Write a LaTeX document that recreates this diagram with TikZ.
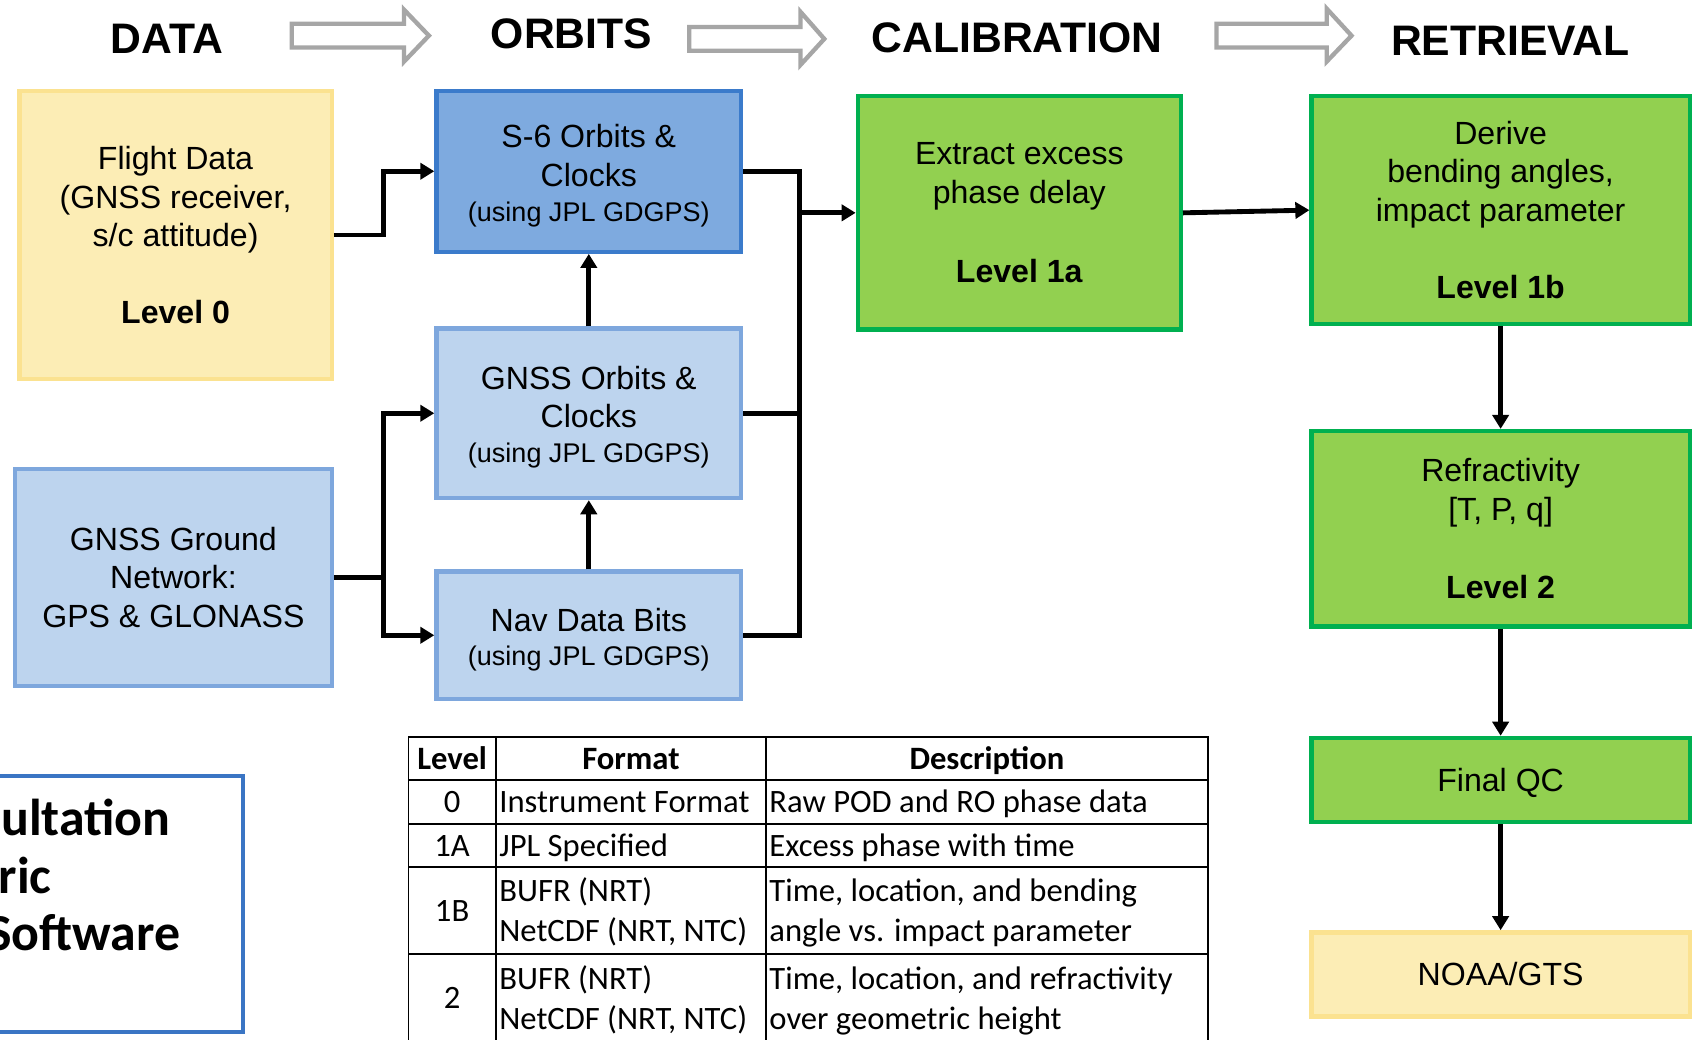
\documentclass[tikz,border=0pt]{standalone}
\usepackage{fontspec}
\setmainfont{Liberation Sans}
\newfontfamily\tabfont{Carlito}
\usetikzlibrary{arrows.meta}
\definecolor{ylfill}{HTML}{FCEDB5}
\definecolor{yldraw}{HTML}{FBE290}
\definecolor{dbfill}{HTML}{7EAADF}
\definecolor{dbdraw}{HTML}{3B7BCB}
\definecolor{lbfill}{HTML}{BDD4EE}
\definecolor{lbdraw}{HTML}{7EA7DD}
\definecolor{grfill}{HTML}{92D050}
\definecolor{grdraw}{HTML}{00B050}
\definecolor{arrgray}{HTML}{A6A6A6}
\definecolor{swdraw}{HTML}{3A75C4}
\begin{document}
\begin{tikzpicture}[x=1pt,y=-1pt,
  box/.style={draw, line width=4pt, inner sep=0pt, align=center,
    font=\fontsize{29.7}{35.5}\selectfont},
  ylbox/.style={box, fill=ylfill, draw=yldraw},
  dbbox/.style={box, fill=dbfill, draw=dbdraw},
  lbbox/.style={box, fill=lbfill, draw=lbdraw},
  grbox/.style={box, fill=grfill, draw=grdraw},
  conn/.style={line width=4.5pt, -{Triangle[length=13pt,width=15pt]}},
  plainline/.style={line width=4.5pt},
  hdr/.style={font=\bfseries\fontsize{39.5}{45}\selectfont, inner sep=0pt},
  garrow/.style={draw=arrgray, fill=white, line width=4pt, line join=miter},
  tab/.style={inner sep=0pt, font=\tabfont\fontsize{30.2}{36}\selectfont},
  tabh/.style={tab, font=\tabfont\bfseries\fontsize{30.2}{36}\selectfont},
  tline/.style={line width=1.5pt, draw=black},
  swtext/.style={inner sep=0pt, font=\tabfont\bfseries\fontsize{48}{56}\selectfont},
]
\useasboundingbox (0,0) rectangle (1568,962);
\fill[white] (0,0) rectangle (1568,962);
\clip (0,0) rectangle (1568,962);

% headers
\node[hdr] (hdata) at (154.5,35.5) {DATA};
\node[hdr] (horb) at (529,31.3) {ORBITS};
\node[hdr] (hcal) at (941.4,34.7) {CALIBRATION};
\node[hdr] (hret) at (1398,37.8) {RETRIEVAL};

% hollow gray arrows
\draw[garrow] (270,22) -- (374,22) -- (374,9) -- (397,33) -- (374,57) -- (374,44) -- (270,44) -- cycle;
\draw[garrow] (638,25) -- (741,25) -- (741,11) -- (763,36) -- (741,60) -- (741,47) -- (638,47) -- cycle;
\draw[garrow] (1126,22) -- (1228,22) -- (1228,8) -- (1251,33) -- (1228,57) -- (1228,44) -- (1126,44) -- cycle;

% boxes
\node[ylbox, minimum width=289, minimum height=267] (flight) at (162.5,217.5)
  {Flight Data\\(GNSS receiver,\\s/c attitude)\\[35.5pt]\textbf{Level 0}};
\node[lbbox, minimum width=293, minimum height=201] (ground) at (160.5,534.5)
  {GNSS Ground\\Network:\\GPS \& GLONASS};
\node[dbbox, minimum width=282, minimum height=149] (s6) at (545,158.5)
  {\rule{0pt}{30pt}S-6 Orbits \&\\Clocks\\[-3pt]{\fontsize{25}{30}\selectfont(using JPL GDGPS)}};
\node[lbbox, minimum width=282, minimum height=157] (gorb) at (545,382.5)
  {\rule{0pt}{29pt}GNSS Orbits \&\\Clocks\\[-3pt]{\fontsize{25}{30}\selectfont(using JPL GDGPS)}};
\node[lbbox, minimum width=282, minimum height=118] (nav) at (545,588)
  {\rule{0pt}{30pt}Nav Data Bits\\[-4pt]{\fontsize{25}{30}\selectfont(using JPL GDGPS)}};
\node[grbox, minimum width=299, minimum height=216] (extract) at (943.5,197)
  {Extract excess\\phase delay\\[38pt]\textbf{Level 1a}};
\node[grbox, minimum width=350, minimum height=211] (derive) at (1389,194.5)
  {Derive\\bending angles,\\impact parameter\\[36pt]\textbf{Level 1b}};
\node[grbox, minimum width=350, minimum height=181] (refr) at (1389,489.5)
  {Refractivity\\{[}T, P, q]\\[37pt]\textbf{Level 2}};
\node[grbox, minimum width=350, minimum height=78] (qc) at (1389,722) {\rule{0pt}{27pt}Final QC};
\node[ylbox, minimum width=350, minimum height=78] (noaa) at (1389,902) {NOAA/GTS};

% connectors
\coordinate (jl) at (355,0);
\coordinate (jr) at (740,0);
\draw[conn] (flight.east) -- (flight.east -| jl) |- (s6.west);
\draw[plainline] (ground.east) -- (ground.east -| jl);
\draw[conn] (ground.east -| jl) |- (gorb.west);
\draw[conn] (ground.east -| jl) |- (nav.west);
\draw[conn] (nav.north) -- (gorb.south);
\draw[conn] (gorb.north) -- (s6.south);
\draw[plainline] (s6.east) -- (s6.east -| jr) -- (nav.east -| jr) -- (nav.east);
\draw[plainline] (gorb.east) -- (gorb.east -| jr);
\draw[conn] (extract.west -| jr) -- (extract.west);
\draw[conn] (extract.east) -- (derive.west);
\draw[conn] (derive.south) -- (refr.north);
\draw[conn] (refr.south) -- (qc.north);
\draw[conn] (qc.south) -- (noaa.north);

% bottom-left partially visible box
\node[draw=swdraw, line width=4pt, minimum width=273, minimum height=237, inner sep=0pt] (sw) at (88.5,836.5) {};
\node[swtext, anchor=base east] (sw1) at (158,773) {ultation};
\node[swtext, anchor=base east] (sw2) at (48,827) {ric};
\node[swtext, anchor=base east] (sw3) at (167,880) {Software};

% table
\draw[tline] (378,682) rectangle (1118,1010);
\draw[tline] (378,722) -- (1118,722);
\draw[tline] (378,762.5) -- (1118,762.5);
\draw[tline] (378,802.5) -- (1118,802.5);
\draw[tline] (378,883) -- (1118,883);
\draw[tline] (459,682) -- (459,1010);
\draw[tline] (709,682) -- (709,1010);

\node[tabh, anchor=base] (th1) at (418.5,712.5) {Level};
\node[tabh, anchor=base] (th2) at (584,712.5) {Format};
\node[tabh, anchor=base] (th3) at (913.5,712.5) {Description};

\node[tab, anchor=base] (l0) at (418.5,752) {0};
\node[tab, anchor=base west] (f0) at (462,752) {Instrument Format};
\node[tab, anchor=base west] (d0) at (712,752) {Raw POD and RO phase data};

\node[tab, anchor=base] (l1a) at (418.5,792.5) {1A};
\node[tab, anchor=base west] (f1a) at (462,792.5) {JPL Specified};
\node[tab, anchor=base west] (d1a) at (712,792.5) {Excess phase with time};

\node[tab, anchor=base] (l1b) at (418.5,853) {1B};
\node[tab, anchor=base west] (f1ba) at (462,834.5) {BUFR (NRT)};
\node[tab, anchor=base west] (f1bb) at (462,871.5) {NetCDF (NRT, NTC)};
\node[tab, anchor=base west] (d1ba) at (712,834.5) {Time, location, and bending};
\node[tab, anchor=base west] (d1bb) at (712,871.5) {angle vs. impact parameter};

\node[tab, anchor=base] (l2) at (418.5,933.5) {2};
\node[tab, anchor=base west] (f2a) at (462,916) {BUFR (NRT)};
\node[tab, anchor=base west] (f2b) at (462,952.5) {NetCDF (NRT, NTC)};
\node[tab, anchor=base west] (d2a) at (712,916) {Time, location, and refractivity};
\node[tab, anchor=base west] (d2b) at (712,952.5) {over geometric height};
\end{tikzpicture}
\end{document}
